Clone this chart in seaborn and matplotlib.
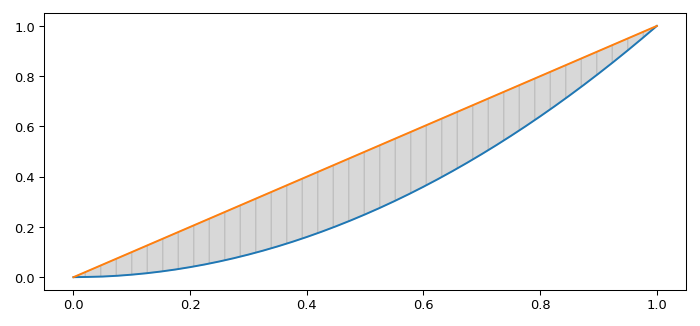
import matplotlib
matplotlib.use("Agg")
import matplotlib.pyplot as plt
import seaborn as sns

x_vals = [0.0, 0.025, 0.05, 0.075, 0.1, 0.125, 0.15, 0.175, 0.2, 0.225, 0.25,
          0.275, 0.3, 0.325, 0.35, 0.375, 0.4, 0.425, 0.45, 0.475, 0.5,
          0.525, 0.55, 0.575, 0.6, 0.625, 0.65, 0.675, 0.7, 0.725, 0.75,
          0.775, 0.8, 0.825, 0.85, 0.875, 0.9, 0.925, 0.95, 0.975, 1.0]
curve_vals = [0.0, 0.001, 0.0025, 0.0056, 0.01, 0.0156, 0.0225, 0.0306, 0.04, 0.0506, 0.0625,
              0.0756, 0.09, 0.1056, 0.1225, 0.1406, 0.16, 0.1806, 0.2025, 0.2256, 0.25,
              0.2756, 0.3025, 0.3306, 0.36, 0.3906, 0.4225, 0.4556, 0.49, 0.5256, 0.5625,
              0.6006, 0.64, 0.6806, 0.7225, 0.7656, 0.81, 0.8556, 0.9025, 0.9506, 1.0]
line_vals = [0.0, 0.025, 0.05, 0.075, 0.1, 0.125, 0.15, 0.175, 0.2, 0.225, 0.25,
             0.275, 0.3, 0.325, 0.35, 0.375, 0.4, 0.425, 0.45, 0.475, 0.5,
             0.525, 0.55, 0.575, 0.6, 0.625, 0.65, 0.675, 0.7, 0.725, 0.75,
             0.775, 0.8, 0.825, 0.85, 0.875, 0.9, 0.925, 0.95, 0.975, 1.0]

fig, ax = plt.subplots(figsize=(7.5, 3.5), dpi=700 / 7.5)
sns.lineplot(x=x_vals, y=curve_vals, ax=ax, color="C0")
sns.lineplot(x=x_vals, y=line_vals, ax=ax, color="C1")
ax.fill_between(x_vals, curve_vals, line_vals, color="gray", alpha=0.3, hatch="|")
fig.subplots_adjust(left=0.0633, right=0.98, bottom=0.111, top=0.957)
fig.savefig("out.png", dpi=700 / 7.5)
